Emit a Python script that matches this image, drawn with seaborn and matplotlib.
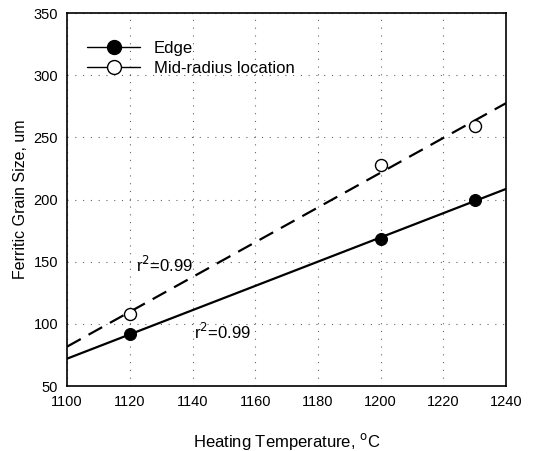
import numpy as np
import pandas as pd
import matplotlib
matplotlib.use("Agg")
import matplotlib.pyplot as plt
import seaborn as sns

temps = [1120, 1200, 1230]
edge = [92, 168, 200]
mid = [108, 228, 259]
xticks = [1100, 1120, 1140, 1160, 1180, 1200, 1220, 1240]
yticks = [50, 100, 150, 200, 250, 300, 350]

sns.set_style("white")
plt.rcParams['font.family'] = ['Liberation Sans', 'DejaVu Sans']
plt.rcParams['text.color'] = 'black'
plt.rcParams['axes.labelcolor'] = 'black'

fig = plt.figure(figsize=(5.55, 4.51), dpi=100)
ax = fig.add_axes([0.121, 0.144, 0.791, 0.827])

xfit = np.array([1100, 1240])
pe = np.polyfit(temps, edge, 1)
pm = np.polyfit(temps, mid, 1)
fit_df = pd.DataFrame({"x": np.concatenate([xfit, xfit]),
                       "y": np.concatenate([np.polyval(pe, xfit), np.polyval(pm, xfit)]),
                       "s": ["Edge"] * 2 + ["Mid"] * 2})
sns.lineplot(data=fit_df[fit_df.s == "Edge"], x="x", y="y", color="black", lw=1.6, ax=ax, legend=False)
sns.lineplot(data=fit_df[fit_df.s == "Mid"], x="x", y="y", color="black", lw=1.6,
             ax=ax, legend=False, dashes=False, linestyle=(0, (7, 4)))

ax.plot([], [], color="black", lw=1, marker="o", ms=10, mfc="black", mec="black", label="Edge")
ax.plot([], [], color="black", lw=1, marker="o", ms=10, mfc="white", mec="black", label="Mid-radius location")

sns.scatterplot(x=temps, y=edge, color="black", edgecolor="black", s=75, ax=ax, zorder=3)
sns.scatterplot(x=temps, y=mid, color="white", edgecolor="black", linewidth=1, s=75, ax=ax, zorder=3)

ax.set_xlim(1100, 1240)
ax.set_ylim(50, 350)
ax.set_xticks(xticks)
ax.set_yticks(yticks)
ax.tick_params(direction="inout", length=6, width=1, labelsize=10.5, colors="black")
ax.grid(True, linestyle=(0, (1, 6)), color="black", lw=0.8, alpha=0.6)
for sp in ax.spines.values():
    sp.set_color("black")
    sp.set_linewidth(1.2)

ax.set_xlabel("Heating Temperature, $^{\\mathrm{o}}$C", fontsize=12, labelpad=16)
ax.set_ylabel("Ferritic Grain Size, um", fontsize=11.5)

ax.text(1122, 142, "r$^{2}$=0.99", fontsize=12)
ax.text(1140.5, 88, "r$^{2}$=0.99", fontsize=12)

ax.legend(loc="upper left", frameon=False, fontsize=12, handlelength=3.2, borderaxespad=0.8,
          bbox_to_anchor=(0.0, 0.98), labelspacing=0.3, labelcolor="black")

fig.savefig("out.png", dpi=100)
